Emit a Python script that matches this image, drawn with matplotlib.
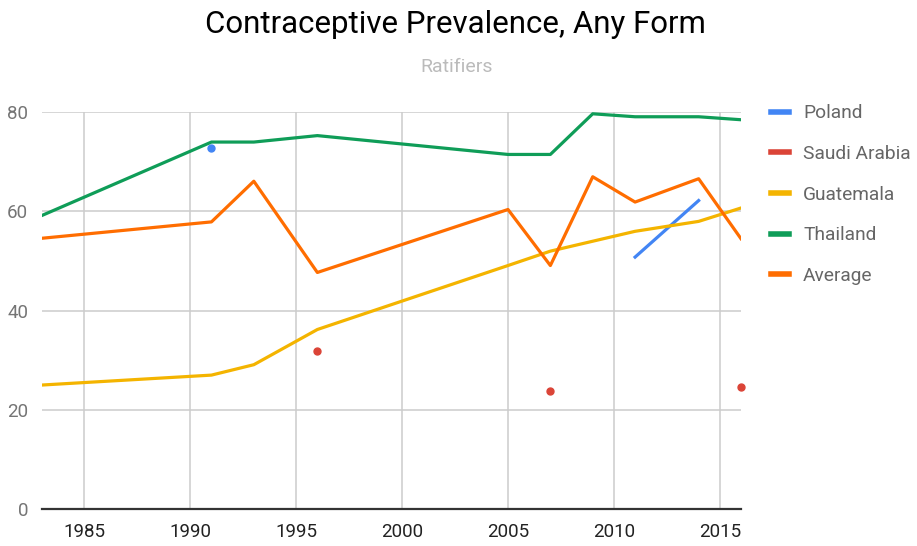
import matplotlib.pyplot as plt
from matplotlib.lines import Line2D

plt.rcParams['font.family'] = ['Roboto', 'DejaVu Sans']

# series
poland_years = [1991, 2011, 2014]
poland_vals = [72.7, 50.8, 62.2]

saudi_years = [1996, 2007, 2016]
saudi_vals = [31.9, 23.8, 24.6]

guat_years = [1983, 1991, 1993, 1996, 2005, 2007, 2009, 2011, 2014, 2016]
guat_vals = [25.0, 27.0, 29.1, 36.2, 49.1, 52.0, 54.0, 56.0, 58.0, 60.7]

thai_years = [1983, 1991, 1993, 1996, 2005, 2007, 2009, 2011, 2014, 2016]
thai_vals = [59.2, 74.0, 74.0, 75.3, 71.5, 71.5, 79.7, 79.1, 79.1, 78.5]

avg_years = [1983, 1991, 1993, 1996, 2005, 2007, 2009, 2011, 2014, 2016]
avg_vals = [54.6, 57.9, 66.1, 47.7, 60.4, 49.1, 67.0, 61.9, 66.6, 54.5]

x_ticks = [1985, 1990, 1995, 2000, 2005, 2010, 2015]
y_ticks = [0, 20, 40, 60, 80]

names = ['Poland', 'Saudi Arabia', 'Guatemala', 'Thailand', 'Average']
cols = ['#4285F4', '#DB4437', '#F4B400', '#0F9D58', '#FF6D00']

fig = plt.figure(figsize=(9.17, 5.46), dpi=100)
ax = fig.add_axes([42/917, 1-509/546, (741-42)/917, (509-112.3)/546])

lw = 2.3
# Poland: isolated 1991 point shown as a dot, the rest as a line
ax.plot(poland_years[:1], poland_vals[:1], 'o', color=cols[0], ms=5, zorder=3)
ax.plot(poland_years[1:], poland_vals[1:], color=cols[0], lw=lw, zorder=3)
ax.plot(saudi_years, saudi_vals, 'o', color=cols[1], ms=5, zorder=3, clip_on=False)
ax.plot(guat_years, guat_vals, color=cols[2], lw=lw, zorder=3)
ax.plot(thai_years, thai_vals, color=cols[3], lw=lw, zorder=3)
ax.plot(avg_years, avg_vals, color=cols[4], lw=lw, zorder=3)

ax.set_xlim(1983, 2016)
ax.set_ylim(0, 80)
ax.set_xticks(x_ticks)
ax.set_yticks(y_ticks)
ax.grid(True, color='#cccccc', lw=1.1)
ax.set_axisbelow(True)
for s in ['top', 'right', 'left']:
    ax.spines[s].set_visible(False)
ax.spines['bottom'].set_color('#333333')
ax.spines['bottom'].set_linewidth(1.6)
ax.spines['bottom'].set_zorder(4)
ax.tick_params(length=0)
ax.tick_params(axis='x', labelsize=13.5, colors='#222222', pad=10)
ax.tick_params(axis='y', labelsize=13.5, labelcolor='#757575', pad=10)

fig.text(0.497, 0.955, 'Contraceptive Prevalence, Any Form', ha='center', va='center',
         fontsize=22.5, color='#000000')
fig.text(0.498, 0.878, 'Ratifiers', ha='center', va='center', fontsize=14, color='#bbbbbb')

# legend with solid line handles for every series
handles = [Line2D([0], [0], color=c, lw=4) for c in cols]
leg = fig.legend(handles, names, loc='upper left', bbox_to_anchor=(771/917, 1-104.5/546),
                 frameon=False, fontsize=13.8, labelspacing=1.18, handlelength=0.95,
                 handletextpad=0.73, borderpad=0, borderaxespad=0)
for t in leg.get_texts():
    t.set_color('#666666')

fig.savefig('out.png', dpi=100)
